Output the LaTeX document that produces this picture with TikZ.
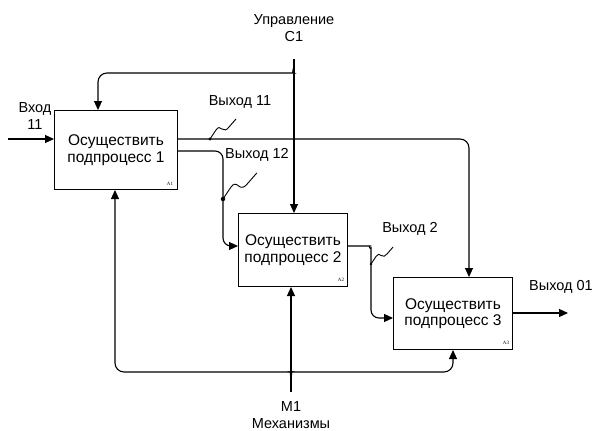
\documentclass[tikz,border=0pt]{standalone}
\usepackage{fontspec}
\setmainfont{Liberation Sans}
\newfontfamily\tagfont{Liberation Serif}
\usetikzlibrary{arrows.meta}
\begin{document}
\begin{tikzpicture}[x=1pt,y=-1pt,
  line width=1.1pt,
  arr/.style={-{Triangle[length=9pt,width=8pt]}},
  proc/.style={draw,line width=1pt,inner sep=0pt,anchor=north west,align=center,
    font=\fontsize{15.5}{16.5}\selectfont},
  lbl/.style={font=\fontsize{14.5}{17}\selectfont,inner sep=0pt,align=center},
  tag/.style={font=\tagfont\fontsize{5}{5}\selectfont,inner sep=0pt},
  squig/.pic={
    \fill (0,0) circle (1.7pt);
    \draw[line width=0.9pt] (0,0) -- (6,-9) .. controls (8,-12) and (10,-12) .. (12,-10)
      .. controls (14,-8) and (17,-9) .. (19,-12) -- (26,-20);
  }]
\useasboundingbox (0,0) rectangle (595,431);

% process boxes
\node[proc,minimum width=123pt,minimum height=79pt] (A1) at (54,110) {Осуществить\\подпроцесс 1};
\node[proc,minimum width=109pt,minimum height=73pt] (A2) at (238,213) {Осуществить\\подпроцесс 2};
\node[proc,minimum width=119pt,minimum height=72pt] (A3) at (393,277) {Осуществить\\подпроцесс 3};
\node[tag] (t1) at (170,184) {A1};
\node[tag] (t2) at (341,280) {A2};
\node[tag] (t3) at (506,343) {A3};

% labels
\node[lbl] (lc1) at (294,28) {Управление\\C1};
\node[lbl] (lin) at (35,116) {Вход\\11};
\node[lbl] (lo11) at (240,102) {Выход 11};
\node[lbl] (lo12) at (257,155) {Выход 12};
\node[lbl] (lo2) at (410,229) {Выход 2};
\node[lbl] (lo01) at (561,287) {Выход 01};
\node[lbl] (lm1) at (291,415) {M1\\Механизмы};

% free ends and routing points
\coordinate (in) at (8,139);
\coordinate (c1) at (294,59);
\coordinate (m1) at (291,392);
\coordinate (out01) at (568,313);
\coordinate (cA1) at (98,73);
\coordinate (o11s) at (177,139);
\coordinate (o11c) at (469,139);
\coordinate (o12s) at (177,151);
\coordinate (o12c) at (223,151);
\coordinate (o12d) at (223,246);
\coordinate (o2s) at (347,246);
\coordinate (o2d) at (371,318);
\coordinate (mL) at (115,372);
\coordinate (mR) at (453,372);

% input
\draw[arr] (in) -- (in -| A1.west);

% control
\draw[arr] (c1) -- (c1 |- A2.north);
\draw[arr,rounded corners=9pt] (294,64) .. controls (294,70) and (291,73) .. (285,73)
  -- (cA1) -- (cA1 |- A1.north);

% output 11 -> A3
\draw[arr,rounded corners=9pt] (o11s) -- (o11c) -- (o11c |- A3.north);
% output 12 -> A2
\draw[arr,rounded corners=8pt] (o12s) -- (o12c) -- (o12d) -- (o12d -| A2.west);
% output 2 -> A3
\draw[arr,rounded corners=8pt] (o2s) -- (362,246)
  .. controls (368,246) and (371,250) .. (371,256) -- (o2d) -- (o2d -| A3.west);
% output 01
\draw[arr] (out01 -| A3.east) -- (out01);

% mechanism
\draw[arr] (m1) -- (m1 |- A2.south);
\draw[arr,rounded corners=9pt] (291,380) .. controls (291,375) and (289,372) .. (283,372)
  -- (mL) -- (mL |- A1.south);
\draw[arr,rounded corners=9pt] (291,380) .. controls (291,375) and (293,372) .. (299,372)
  -- (mR) -- (mR |- A3.south);

% output squiggles
\pic at (210,139) {squig};
\pic[scale=1.3] at (223,199) {squig};
\pic[scale=0.85] at (371,264) {squig};
\end{tikzpicture}
\end{document}
